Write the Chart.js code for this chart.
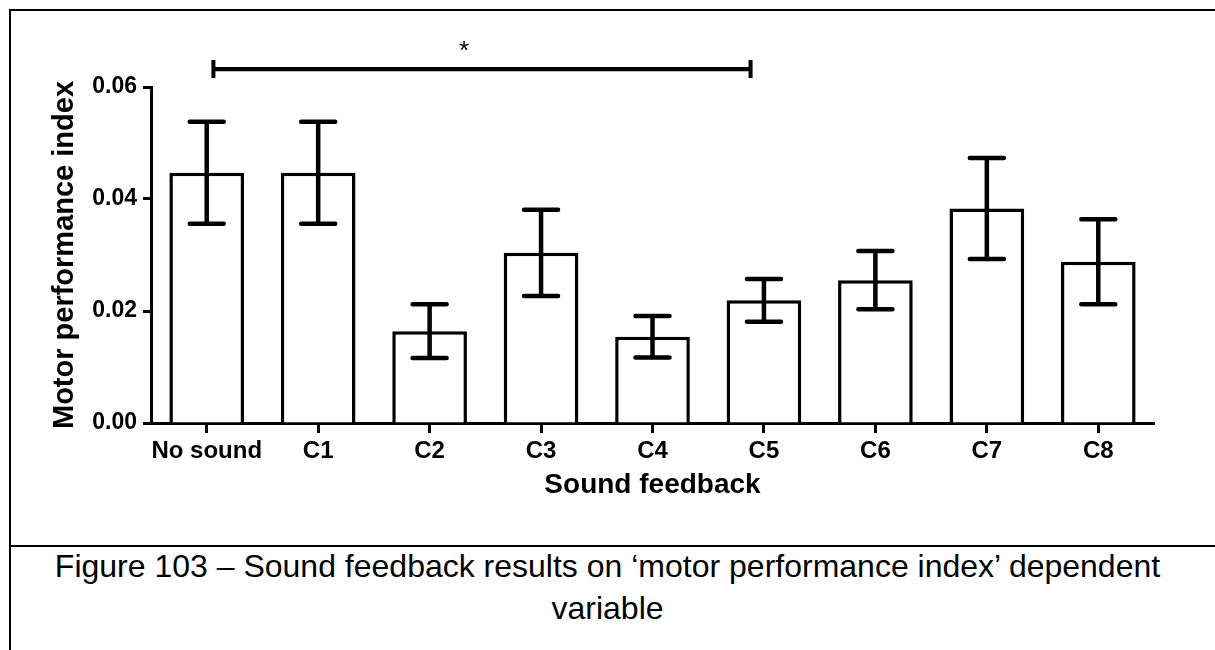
<!DOCTYPE html>
<html>
<head>
<meta charset="utf-8">
<title>Motor performance index</title>
<script src="https://cdn.jsdelivr.net/npm/chart.js@4.4.1/dist/chart.umd.min.js"></script>
<style>
  html, body { margin: 0; padding: 0; background: #fff; }
  body { width: 1215px; height: 650px; position: relative; overflow: hidden; font-family: "Liberation Sans", Arial, sans-serif; }
  #frame { position: absolute; left: 9px; top: 9px; width: 1220px; height: 660px; border-left: 2px solid #000; border-top: 2px solid #000; }
  #divider { position: absolute; left: 9px; top: 545px; width: 1206px; height: 2px; background: #000; }
  #chart { position: absolute; left: 0; top: 0; }
  #caption { position: absolute; left: 0; top: 545px; width: 1215px; text-align: center; font-size: 32px; line-height: 42px; color: #000; }
</style>
</head>
<body>
<div id="frame"></div>
<canvas id="chart" width="1215" height="545"></canvas>
<div id="divider"></div>
<div id="caption">Figure 103 – Sound feedback results on ‘motor performance index’ dependent<br>variable</div>

<script>
// ================= DATA =================
const categories = ["No sound", "C1", "C2", "C3", "C4", "C5", "C6", "C7", "C8"];
const means = [0.0447, 0.0447, 0.0164, 0.0304, 0.0154, 0.0219, 0.0255, 0.0383, 0.0288];
const sem = [0.0091, 0.0091, 0.0048, 0.0077, 0.0037, 0.0038, 0.0052, 0.0090, 0.0076];
const yTicks = [0, 0.02, 0.04, 0.06];

// significance bracket (category index from / to, value height)
const sigFrom = 0.06;
const sigTo = 4.88;
const sigValue = 0.0632;
const sigLabel = "*";
const sigLabelAt = 2.31;
const sigLabelValue = 0.065;

const FONT = '"Liberation Sans", Arial, sans-serif';

// ================= PLUGINS =================
const errorBars = {
  id: "errorBars",
  afterDatasetsDraw(chart) {
    const { ctx, scales: { y } } = chart;
    const meta = chart.getDatasetMeta(0);
    ctx.save();
    ctx.strokeStyle = "#000";
    ctx.lineWidth = 4.5;
    ctx.lineCap = "round";
    meta.data.forEach((bar, i) => {
      const cx = bar.x;
      const top = y.getPixelForValue(means[i] + sem[i]);
      const bot = y.getPixelForValue(means[i] - sem[i]);
      ctx.beginPath();
      ctx.moveTo(cx, top);
      ctx.lineTo(cx, bot);
      ctx.moveTo(cx - 17, top);
      ctx.lineTo(cx + 17, top);
      ctx.moveTo(cx - 17, bot);
      ctx.lineTo(cx + 17, bot);
      ctx.stroke();
    });
    ctx.restore();
  }
};

const sigBracket = {
  id: "sigBracket",
  afterDraw(chart) {
    const { ctx, scales: { x, y } } = chart;
    const x0 = x.getPixelForValue(sigFrom);
    const x1 = x.getPixelForValue(sigTo);
    const yy = y.getPixelForValue(sigValue);
    ctx.save();
    ctx.strokeStyle = "#000";
    ctx.lineCap = "butt";
    ctx.lineWidth = 4.3;
    ctx.beginPath();
    ctx.moveTo(x0, yy);
    ctx.lineTo(x1, yy);
    ctx.stroke();
    ctx.lineWidth = 4;
    ctx.beginPath();
    ctx.moveTo(x0, yy - 9);
    ctx.lineTo(x0, yy + 9);
    ctx.moveTo(x1, yy - 9);
    ctx.lineTo(x1, yy + 9);
    ctx.stroke();

    ctx.fillStyle = "#000";
    ctx.font = "26px " + FONT;
    ctx.textAlign = "center";
    ctx.textBaseline = "alphabetic";
    ctx.fillText(sigLabel, x.getPixelForValue(sigLabelAt), y.getPixelForValue(sigLabelValue));
    ctx.restore();
  }
};

// ================= CHART =================
new Chart(document.getElementById("chart"), {
  type: "bar",
  data: {
    labels: categories,
    datasets: [{
      data: means,
      backgroundColor: "#fff",
      borderColor: "#000",
      borderWidth: 3.5,
      barPercentage: 0.67,
      categoryPercentage: 1
    }]
  },
  options: {
    responsive: false,
    animation: false,
    devicePixelRatio: 1,
    layout: { padding: { left: 0, top: 87, right: 61, bottom: 0 } },
    plugins: {
      legend: { display: false },
      tooltip: { enabled: false }
    },
    scales: {
      x: {
        offset: true,
        afterFit: s => { s.height = 122; },
        grid: { display: true, drawOnChartArea: false, offset: false, tickLength: 10, tickWidth: 3, tickColor: "#000" },
        border: { display: true, color: "#000", width: 3 },
        ticks: {
          color: "#000",
          padding: 4,
          maxRotation: 0,
          minRotation: 0,
          autoSkip: false,
          font: { family: FONT, size: 24, weight: "bold" }
        },
        title: {
          display: true,
          text: "Sound feedback",
          color: "#000",
          font: { family: FONT, size: 28, weight: "bold", lineHeight: 1 },
          padding: { top: 0, bottom: 46 }
        }
      },
      y: {
        min: 0,
        max: 0.06,
        afterFit: s => { s.width = 151; },
        afterBuildTicks: s => { s.ticks = yTicks.map(v => ({ value: v })); },
        grid: { display: true, drawOnChartArea: false, tickLength: 8, tickWidth: 3, tickColor: "#000" },
        border: { display: true, color: "#000", width: 3 },
        ticks: {
          color: "#000",
          padding: 6,
          font: { family: FONT, size: 23, weight: "bold" },
          callback: v => Number(v).toFixed(2)
        },
        title: {
          display: true,
          text: "Motor performance index",
          color: "#000",
          font: { family: FONT, size: 29, weight: "bold", lineHeight: 1 },
          padding: { top: 50, bottom: 0 }
        }
      }
    }
  },
  plugins: [errorBars, sigBracket]
});
</script>
</body>
</html>
